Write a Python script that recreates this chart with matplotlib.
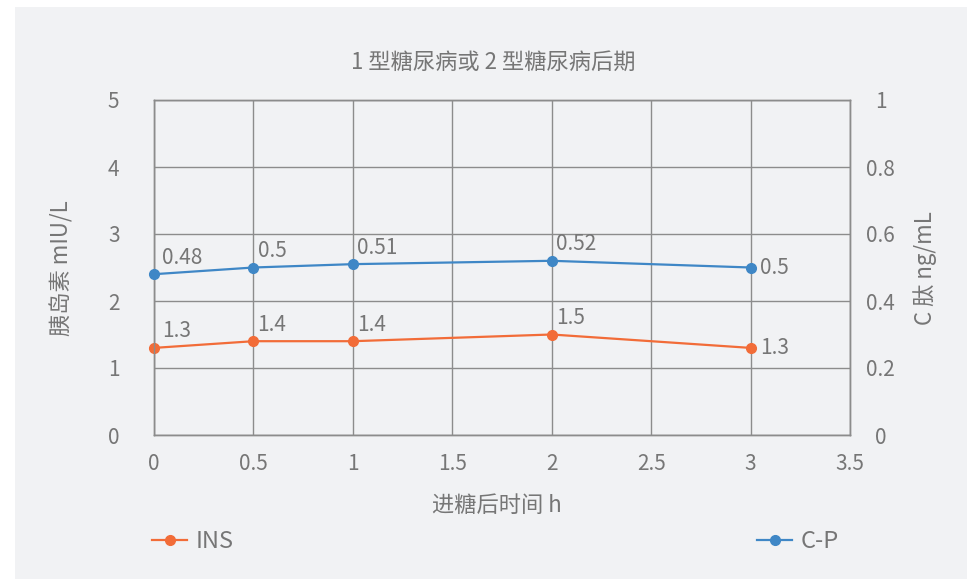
import matplotlib
matplotlib.use("Agg")
import matplotlib.pyplot as plt
from matplotlib.patches import Rectangle
from matplotlib.lines import Line2D

plt.rcParams['font.family'] = ['Noto Sans CJK SC', 'DejaVu Sans']
plt.rcParams['font.weight'] = 'light'

# Data
hours = [0, 0.5, 1, 2, 3]
ins_values = [1.3, 1.4, 1.4, 1.5, 1.3]          # 胰岛素 mIU/L
cp_values = [0.48, 0.5, 0.51, 0.52, 0.5]        # C 肽 ng/mL
x_ticks = [0, 0.5, 1, 1.5, 2, 2.5, 3, 3.5]
left_ticks = [0, 1, 2, 3, 4, 5]
right_ticks = [0, 0.2, 0.4, 0.6, 0.8, 1]

title = "1 型糖尿病或 2 型糖尿病后期"
x_label = "进糖后时间 h"
left_label = "胰岛素 mIU/L"
right_label = "C 肽 ng/mL"

ORANGE = "#f26c38"
BLUE = "#3f87c6"
GRID = "#8c8c8c"
TEXT = "#767676"
PANEL = "#f1f2f4"

fig = plt.figure(figsize=(9.67, 5.79), dpi=100, facecolor="white")
fig.patches.append(Rectangle((15 / 967, 0), 1 - 15 / 967, 1 - 7 / 579,
                             transform=fig.transFigure, facecolor=PANEL,
                             edgecolor="none", zorder=-10))

ax = fig.add_axes([154 / 967, 1 - 435 / 579, (850 - 154) / 967, (435 - 100) / 579])
ax.set_facecolor("none")
ax2 = ax.twinx()
ax2.set_facecolor("none")

ax.set_xlim(0, 3.5)
ax.set_ylim(0, 5)
ax2.set_ylim(0, 1)

ax.set_xticks(x_ticks)
ax.set_xticklabels([f"{v:g}" for v in x_ticks])
ax.set_yticks(left_ticks)
ax.set_yticklabels([f"{v:g}" for v in left_ticks])
ax2.set_yticks(right_ticks)
ax2.set_yticklabels([f"{v:g}" for v in right_ticks])

ax.grid(True, color=GRID, linewidth=1.0)
ax.set_axisbelow(True)
for a in (ax, ax2):
    for s in a.spines.values():
        s.set_color(GRID)
        s.set_linewidth(1.0)

TICK_FS = 15
ax.tick_params(axis="x", length=0, pad=13, labelsize=TICK_FS, labelcolor=TEXT)
ax.tick_params(axis="y", length=0, pad=29, labelsize=TICK_FS, labelcolor=TEXT)
ax2.tick_params(axis="y", length=0, pad=22, labelsize=TICK_FS, labelcolor=TEXT)
for lbl in ax.get_yticklabels():
    lbl.set_horizontalalignment("center")
for lbl in ax2.get_yticklabels():
    lbl.set_horizontalalignment("center")

# Series
ax.plot(hours, ins_values, color=ORANGE, linewidth=1.6, marker="o",
        markersize=7, zorder=3, clip_on=False)
ax2.plot(hours, cp_values, color=BLUE, linewidth=1.6, marker="o",
         markersize=7, zorder=3, clip_on=False)

# Value labels
def label_points(axis, xs, ys):
    n = len(xs)
    for i, (x, y) in enumerate(zip(xs, ys)):
        if i == n - 1:
            axis.annotate(f"{y:g}", (x, y), xytext=(7, 0), textcoords="offset points",
                          ha="left", va="center", fontsize=TICK_FS, color=TEXT)
        else:
            dx = 6 if i == 0 else 3
            axis.annotate(f"{y:g}", (x, y), xytext=(dx, 4), textcoords="offset points",
                          ha="left", va="bottom", fontsize=TICK_FS, color=TEXT)

label_points(ax, hours, ins_values)
label_points(ax2, hours, cp_values)

# Titles and axis names
LABEL_FS = 16
fig.text(493 / 967, 1 - 62 / 579, title, ha="center", va="center",
         fontsize=LABEL_FS, color=TEXT)
fig.text(497 / 967, 1 - 505 / 579, x_label, ha="center", va="center",
         fontsize=LABEL_FS, color=TEXT)
fig.text(62 / 967, 1 - 268 / 579, left_label, ha="center", va="center",
         rotation=90, fontsize=LABEL_FS, color=TEXT)
fig.text(925 / 967, 1 - 268 / 579, right_label, ha="center", va="center",
         rotation=90, fontsize=LABEL_FS, color=TEXT)

# Legends
ins_handle = Line2D([], [], color=ORANGE, linewidth=1.6, marker="o", markersize=7)
cp_handle = Line2D([], [], color=BLUE, linewidth=1.6, marker="o", markersize=7)
leg_kw = dict(frameon=False, fontsize=17, handlelength=1.5, handletextpad=0.35,
              borderpad=0, borderaxespad=0, labelcolor=TEXT)
fig.legend([ins_handle], ["INS"], loc="center left",
           bbox_to_anchor=(152 / 967, 1 - 542 / 579), **leg_kw)
fig.legend([cp_handle], ["C-P"], loc="center left",
           bbox_to_anchor=(757 / 967, 1 - 542 / 579), **leg_kw)

fig.savefig("out.png", dpi=100, facecolor="white")
